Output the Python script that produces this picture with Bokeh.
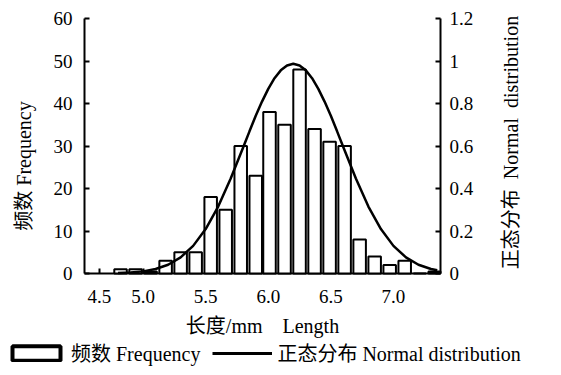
import math
from bokeh.plotting import figure
from bokeh.layouts import column, row
from bokeh.models import Range1d, LinearAxis, FixedTicker, Legend, LegendItem, Label
from bokeh.embed import file_html
from bokeh.resources import INLINE

# ---- data ----
bar_length = [4.82, 4.94, 5.06, 5.18, 5.30, 5.42, 5.54, 5.66, 5.78, 5.90, 6.01,
              6.13, 6.25, 6.37, 6.49, 6.61, 6.73, 6.85, 6.97, 7.09, 7.21, 7.33]
frequency = [1, 1, 0.5, 3, 5, 5, 18, 15, 30, 23, 38,
             35, 48, 34, 31, 30, 8, 4, 2, 3, 0, 0.5]

curve_length = [4.80, 4.90, 5.00, 5.10, 5.20, 5.30, 5.40, 5.50, 5.60, 5.70, 5.80,
                5.85, 5.90, 5.95, 6.00, 6.05, 6.10, 6.15, 6.20, 6.25, 6.30, 6.35,
                6.40, 6.45, 6.50, 6.55, 6.60, 6.70, 6.80, 6.90, 7.00, 7.10, 7.20,
                7.30, 7.35]
normal_dist = [0.002, 0.005, 0.010, 0.021, 0.041, 0.076, 0.130, 0.209, 0.315, 0.447, 0.594,
               0.669, 0.742, 0.809, 0.869, 0.919, 0.956, 0.979, 0.987, 0.979, 0.956, 0.919,
               0.869, 0.809, 0.742, 0.669, 0.594, 0.447, 0.315, 0.209, 0.130, 0.076, 0.041,
               0.021, 0.015]

x_ticks = [4.65, 5.0, 5.5, 6.0, 6.5, 7.0]
x_tick_labels = ["4.5", "5.0", "5.5", "6.0", "6.5", "7.0"]
y_ticks = [0, 10, 20, 30, 40, 50, 60]
y_tick_labels = ["0", "10", "20", "30", "40", "50", "60"]
y2_ticks = [0, 0.2, 0.4, 0.6, 0.8, 1.0, 1.2]
y2_tick_labels = ["0", "0.2", "0.4", "0.6", "0.8", "1", "1.2"]

FONT = "'Liberation Serif', 'Noto Sans CJK SC'"
NB = "\u00a0"

# ---- main chart ----
fig = figure(width=490, height=343, x_range=Range1d(4.532, 7.376), y_range=Range1d(0, 60),
             output_backend="svg", toolbar_location=None,
             min_border_left=84, min_border_top=18, min_border_bottom=70, min_border_right=50)
fig.frame_align = False
fig.outline_line_color = None
fig.xgrid.visible = False
fig.ygrid.visible = False

fig.extra_y_ranges = {"pdf": Range1d(0, 1.2)}
right = LinearAxis(y_range_name="pdf", ticker=FixedTicker(ticks=y2_ticks))
right.major_label_overrides = {t: l for t, l in zip(y2_ticks, y2_tick_labels)}
fig.add_layout(right, "right")

fig.xaxis.ticker = FixedTicker(ticks=x_ticks)
fig.xaxis.major_label_overrides = {t: l for t, l in zip(x_ticks, x_tick_labels)}
fig.yaxis[0].ticker = FixedTicker(ticks=y_ticks)
fig.yaxis[0].major_label_overrides = {t: l for t, l in zip(y_ticks, y_tick_labels)}

fig.xaxis.axis_label = "长度/mm" + NB * 4 + "Length"
fig.yaxis[0].axis_label = "频数 Frequency" + NB * 8

for ax in [fig.xaxis[0], fig.yaxis[0], right]:
    ax.axis_line_width = 2
    ax.axis_line_color = "black"
    ax.major_tick_line_width = 2
    ax.major_tick_line_color = "black"
    ax.major_tick_in = 5
    ax.major_tick_out = 0
    ax.minor_tick_line_color = None
    ax.major_label_text_font = FONT
    ax.major_label_text_font_size = "19px"
    ax.major_label_text_color = "black"
    ax.axis_label_text_font = FONT
    ax.axis_label_text_font_size = "20px"
    ax.axis_label_text_font_style = "normal"
    ax.axis_label_text_color = "black"

fig.xaxis.major_label_standoff = 16
fig.xaxis.axis_label_standoff = 9
fig.yaxis[0].major_label_standoff = 12
fig.yaxis[0].axis_label_standoff = 16
right.major_label_standoff = 9

fig.vbar(x=bar_length, top=frequency, width=0.1, fill_color="white",
         line_color="black", line_width=2, level="annotation")
fig.line(x=curve_length, y=normal_dist, y_range_name="pdf", line_color="black",
         line_width=2.5, level="annotation")

# ---- right-hand axis title (reads bottom to top) ----
side = figure(width=63, height=343, output_backend="svg", toolbar_location=None,
              min_border=0, x_range=Range1d(0, 1), y_range=Range1d(0, 1),
              x_axis_type=None, y_axis_type=None)
side.frame_align = False
side.grid.visible = False
side.outline_line_color = None
side.add_layout(Label(x=20, y=201, x_units="screen", y_units="screen", angle=math.pi / 2,
                      text="正态分布" + NB * 2 + "Normal" + NB * 2 + "distribution",
                      text_align="center", text_baseline="middle", text_font=FONT,
                      text_font_size="20px", text_color="black"))

# ---- legend strip ----
leg_fig = figure(width=553, height=24, output_backend="svg", toolbar_location=None,
                 min_border=0, x_range=Range1d(0, 1), y_range=Range1d(0, 1),
                 x_axis_type=None, y_axis_type=None)
leg_fig.frame_align = False
leg_fig.grid.visible = False
leg_fig.outline_line_color = None
nan = float("nan")
leg_bar = leg_fig.vbar(x=[nan], top=[nan], width=0.1, fill_color="white",
                       line_color="black", line_width=4)
leg_line = leg_fig.line(x=[nan, nan], y=[nan, nan], line_color="black", line_width=3)

legend = Legend(items=[LegendItem(label="频数 Frequency", renderers=[leg_bar]),
                       LegendItem(label="正态分布 Normal distribution", renderers=[leg_line])],
                location=(6, 0), orientation="horizontal",
                glyph_width=60, glyph_height=18, label_height=20, label_standoff=5,
                padding=0, margin=0, spacing=12, border_line_color=None,
                background_fill_alpha=0, label_text_font=FONT, label_text_font_size="20px",
                label_text_color="black")
leg_fig.add_layout(legend, "center")

p = column(row(fig, side, spacing=0), leg_fig, spacing=0)

open("out.html", "w").write(file_html(p, INLINE))
